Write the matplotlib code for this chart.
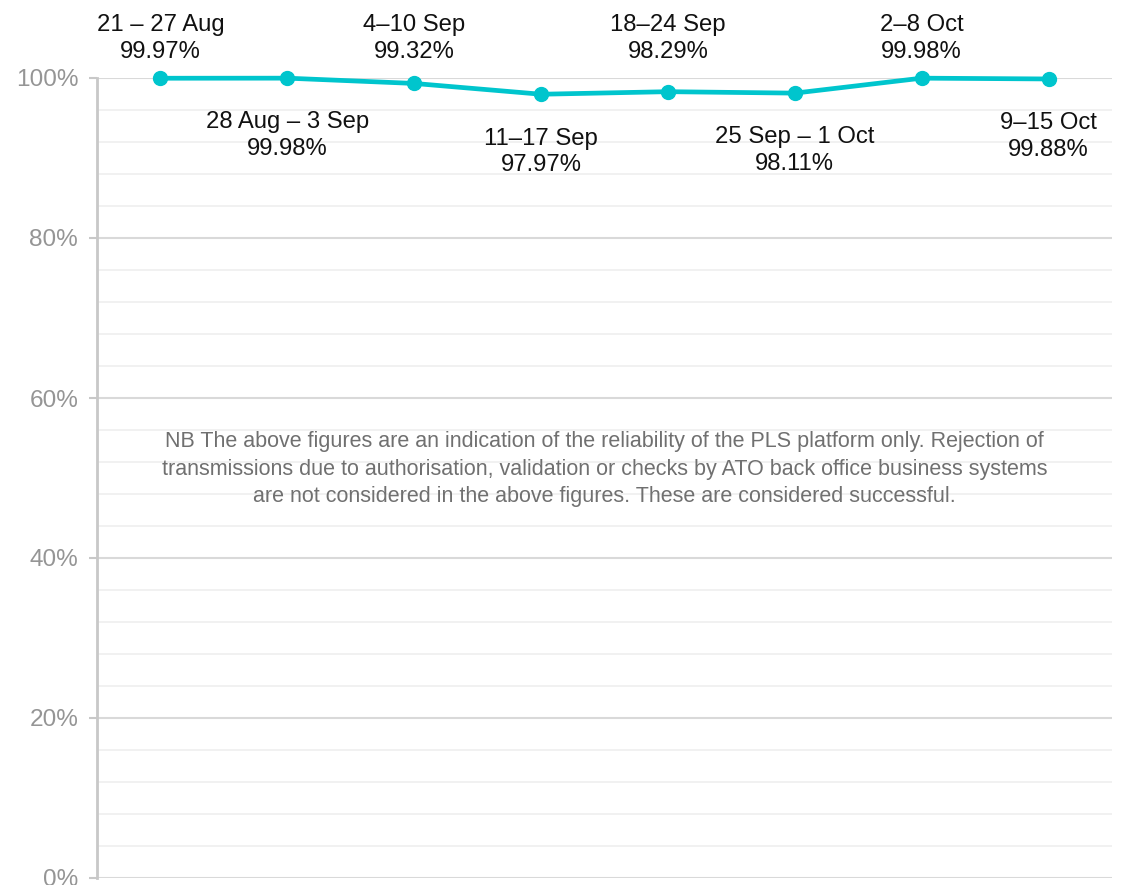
import matplotlib
matplotlib.use("Agg")
import matplotlib.pyplot as plt
from matplotlib.ticker import MultipleLocator, FuncFormatter

plt.rcParams['font.family'] = ['Liberation Sans', 'DejaVu Sans']

weeks = ["21 – 27 Aug", "28 Aug – 3 Sep", "4–10 Sep", "11–17 Sep",
         "18–24 Sep", "25 Sep – 1 Oct", "2–8 Oct", "9–15 Oct"]
success_pct = [99.97, 99.98, 99.32, 97.97, 98.29, 98.11, 99.98, 99.88]
y_ticks = [0, 20, 40, 60, 80, 100]
note = ("NB The above figures are an indication of the reliability of the PLS platform only. Rejection of\n"
        "transmissions due to authorisation, validation or checks by ATO back office business systems\n"
        "are not considered in the above figures. These are considered successful.")

line_color = "#00C5CD"

fig = plt.figure(figsize=(11.21, 8.85), dpi=100)
ax = fig.add_axes([97/1121, 1 - 878/885, (1112 - 97)/1121, (878 - 78)/885])

x = list(range(len(weeks)))
ax.plot(x, success_pct, color=line_color, lw=3.4, marker='o', markersize=10,
        solid_capstyle='round', zorder=3, clip_on=False)

ax.set_xlim(-0.5, len(weeks) - 0.5)
ax.set_ylim(0, 100)
ax.set_yticks(y_ticks)
ax.yaxis.set_minor_locator(MultipleLocator(4))
ax.yaxis.set_major_formatter(FuncFormatter(lambda v, p: f"{v:.0f}%"))
ax.set_xticks([])

ax.grid(axis='y', which='major', color='#D9D9D9', lw=1.5, zorder=0)
ax.grid(axis='y', which='minor', color='#F0F0F0', lw=1.3, zorder=0)
ax.tick_params(axis='y', which='major', length=6, width=1.5, color='#C8C8C8',
               labelsize=17.6, labelcolor='#959595', pad=7.5)
ax.tick_params(axis='y', which='minor', length=0)

for s in ['top', 'right', 'bottom']:
    ax.spines[s].set_visible(False)
ax.spines['left'].set_color('#C8C8C8')
ax.spines['left'].set_linewidth(2)

for i, (w, v) in enumerate(zip(weeks, success_pct)):
    label = f"{w}\n{v:.2f}%"
    if i % 2 == 0:
        ax.annotate(label, xy=(i, 100), xytext=(0, 28.4), textcoords='offset points',
                    ha='center', va='center', fontsize=17.2, color='#111111',
                    linespacing=1.26, annotation_clip=False)
    else:
        ax.annotate(label, xy=(i, v), xytext=(0, -41.4), textcoords='offset points',
                    ha='center', va='center', fontsize=17.2, color='#111111',
                    linespacing=1.26, annotation_clip=False)

ax.text(0.5, 51.1, note, transform=ax.get_yaxis_transform(), ha='center', va='center',
        fontsize=15.5, color='#707070', linespacing=1.42)

fig.savefig("out.png", dpi=100)
